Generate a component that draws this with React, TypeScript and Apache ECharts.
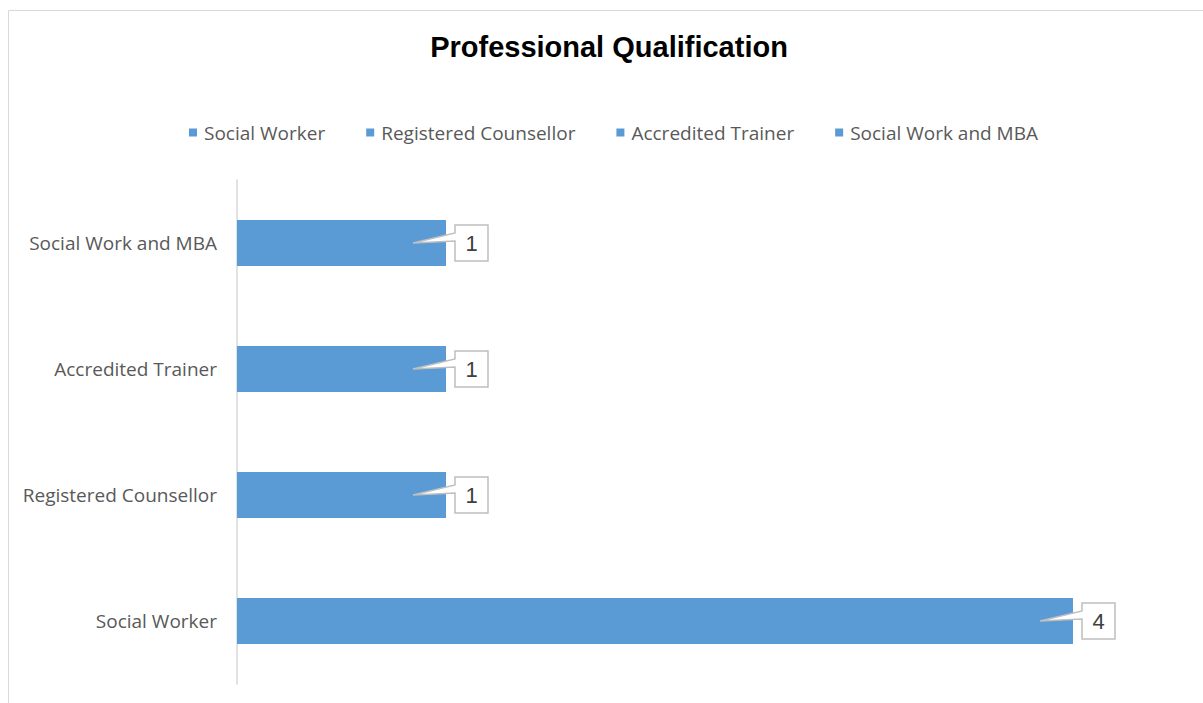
import React, { useEffect, useRef } from "react";
import * as echarts from "echarts";

const categories = ["Social Worker", "Registered Counsellor", "Accredited Trainer", "Social Work and MBA"];
const values = [4, 1, 1, 1];
const titleText = "Professional Qualification";
const barColor = "#5b9bd5";

export default function App() {
  const ref = useRef<HTMLDivElement>(null);
  useEffect(() => {
    if (!ref.current) return;
    const chart = echarts.init(ref.current, null, { renderer: "svg" });
    const barSeries = categories.map((name, i) => ({
      name,
      type: "bar",
      stack: "q",
      barWidth: 46,
      itemStyle: { color: barColor },
      data: values.map((v, j) => (j === i ? v : null)),
    }));
    const calloutSeries = {
      name: "labels",
      type: "custom",
      clip: false,
      z: 10,
      silent: true,
      encode: { x: 0, y: 1 },
      data: values.map((v, i) => [v, i]),
      renderItem: (params: any, api: any) => {
        const p = api.coord([api.value(0), api.value(1)]);
        const w = 33;
        const h = 36;
        const bx = p[0] + 9;
        const by = p[1] - h / 2;
        const tip = [p[0] - 33, p[1]];
        return {
          type: "group",
          children: [
            {
              type: "polygon",
              shape: {
                points: [
                  [bx, by],
                  [bx + w, by],
                  [bx + w, by + h],
                  [bx, by + h],
                  [bx, p[1] - 2],
                  tip,
                  [bx, p[1] - 10],
                ],
              },
              style: { fill: "#ffffff", stroke: "#bfbfbf", lineWidth: 1.5 },
            },
            {
              type: "text",
              style: {
                text: String(api.value(0)),
                x: bx + w / 2,
                y: p[1],
                align: "center",
                verticalAlign: "middle",
                fontSize: 22,
                fontFamily: "Liberation Sans",
                fill: "#404040",
              },
            },
          ],
        };
      },
    };
    chart.setOption({
      animation: false,
      backgroundColor: "#ffffff",
      title: {
        text: titleText,
        left: 604,
        textAlign: "center",
        top: 27,
        textStyle: { fontFamily: "Liberation Sans", fontWeight: "bold", fontSize: 29, color: "#000000" },
      },
      legend: {
        data: categories,
        top: 118,
        left: 184,
        icon: "rect",
        itemWidth: 8,
        itemHeight: 8,
        itemGap: 41,
        textStyle: { fontFamily: "Open Sans", fontSize: 19, color: "#595959", padding: [0, 0, 0, 2] },
      },
      grid: { left: 237, top: 180, height: 504, right: 25.5 },
      xAxis: { type: "value", min: 0, max: 4.5, show: false },
      yAxis: {
        type: "category",
        data: categories,
        axisLine: { show: true, lineStyle: { color: "#d9d9d9", width: 1.5 } },
        axisTick: { show: false },
        axisLabel: { fontFamily: "Open Sans", fontSize: 19, color: "#595959", margin: 20 },
      },
      graphic: [
        {
          type: "rect",
          silent: true,
          z: -10,
          shape: { x: 8.5, y: 10.5, width: 1300, height: 800 },
          style: { fill: "none", stroke: "#d9d9d9", lineWidth: 1 },
        },
      ],
      series: [...barSeries, calloutSeries],
    });
    return () => chart.dispose();
  }, []);
  return (
    <div
      ref={ref}
      style={{ position: "fixed", left: 0, top: 0, width: 1203, height: 703, background: "#fff" }}
    />
  );
}
